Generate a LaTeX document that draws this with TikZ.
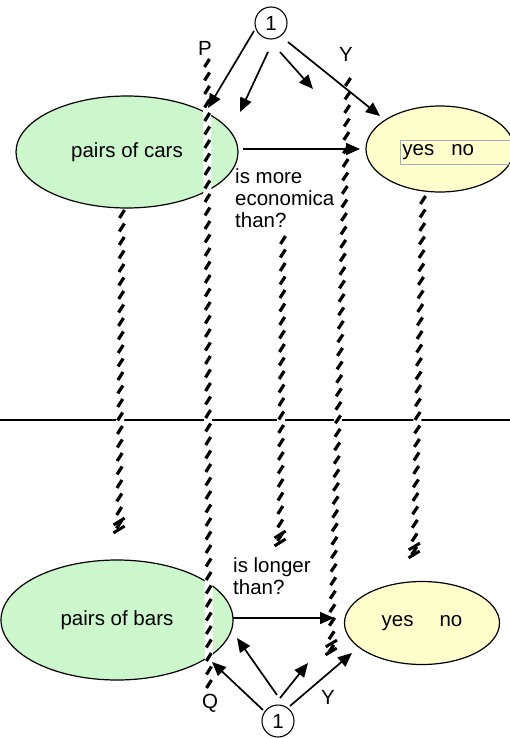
\documentclass[tikz,border=0pt]{standalone}
\usepackage{fontspec}
\setmainfont{Liberation Sans}
\usetikzlibrary{arrows.meta,decorations.markings,shapes.geometric}

\definecolor{pairgreen}{RGB}{204,246,204}
\definecolor{answeryellow}{RGB}{255,255,204}
\definecolor{boxedge}{RGB}{160,170,195}

\tikzset{
  every node/.style={font=\fontsize{20.5}{22}\selectfont},
  pairnode/.style={ellipse, draw, line width=1.2pt, fill=pairgreen, inner sep=0pt},
  answernode/.style={ellipse, draw, line width=1.2pt, fill=answeryellow, inner sep=0pt},
  numnode/.style={circle, draw, line width=1.1pt, fill=white, minimum size=32pt, inner sep=0pt},
  arr/.style={-{Triangle[length=14pt,width=12pt]}, line width=1.7pt},
  % a vertical track: white backing strip with slanted black ticks
  track/.style={
    preaction={draw=white, line width=8pt},
    postaction={decorate, decoration={markings,
      mark=between positions 0 and 1 step 13.5pt with
        {\draw[black, line width=3.2pt] (4pt,-2.5pt) -- (-4pt,2.5pt);}}}},
  % double slash closing a track
  trackend/.style={
    postaction={decorate, decoration={markings,
      mark=at position 1 with
        {\draw[black, line width=3pt] (0pt,-5.5pt) -- (-7pt,5.5pt)
                                      (-8pt,-5.5pt) -- (-15pt,5.5pt);}}}},
}

\begin{document}
\begin{tikzpicture}[x=1pt, y=-1pt]
\clip (0,0) rectangle (510,738);
\fill[white] (0,0) rectangle (510,738);

% separator between the two levels
\coordinate (sepL) at (0,420);
\coordinate (sepR) at (510,420);
\draw[line width=1.2pt] (sepL) -- (sepR);

% upper level
\node[pairnode, minimum width=222pt, minimum height=112pt] (cars) at (127,152) {pairs of cars};
\node[answernode, minimum width=148pt, minimum height=86pt] (yesTop) at (440,149) {};
\node[draw=boxedge, line width=0.8pt, anchor=west, minimum height=24pt,
      text width=114pt, align=left, inner xsep=2pt, inner ysep=0pt] (yesnoTop) at (400,152)
      {yes\hspace{17pt}no};
\node[anchor=north west, align=left, inner sep=0pt] (econ) at (235,168)
      {is more\\economica\\than?};

% lower level
\node[pairnode, minimum width=232pt, minimum height=120pt] (bars) at (117,620) {pairs of bars};
\node[answernode, minimum width=155pt, minimum height=83pt] (yesBot) at (422,623)
      {yes\hspace{26pt}no};
\node[anchor=north west, align=left, inner sep=0pt] (longer) at (233,557)
      {is longer\\than?};

% tracks
\coordinate (p1) at (207,63);  \coordinate (p2) at (209,686);
\coordinate (y1) at (348,82);  \coordinate (y2) at (331,655);
\coordinate (l1) at (122,214); \coordinate (l2) at (119,533);
\coordinate (m1) at (283,240); \coordinate (m2) at (280,546);
\coordinate (r1) at (423,200); \coordinate (r2) at (414,558);
\path[track] (p1) -- (p2);
\path[track, trackend] (y1) -- (y2);
\path[track, trackend] (l1) -- (l2);
\path[track, trackend] (m1) -- (m2);
\path[track, trackend] (r1) -- (r2);

% labels
\node (labP) at (205,48) {P};
\node (labY) at (346,54) {Y};
\node (labQ) at (210,703) {Q};
\node (labY2) at (328,697) {Y};

% relation arrows
\coordinate (carsOut) at (243,149); \coordinate (carsIn) at (360,149);
\draw[arr] (carsOut) -- (carsIn);
\coordinate (barsOut) at (233,618); \coordinate (barsIn) at (334,618);
\draw[arr] (barsOut) -- (barsIn);

% upper fan
\node[numnode] (numTop) at (271,23) {1};
\coordinate (ta1) at (254,31);  \coordinate (ha1) at (208,108);
\coordinate (ta2) at (268,52);  \coordinate (ha2) at (240,112);
\coordinate (ta3) at (280,52);  \coordinate (ha3) at (313,89);
\coordinate (ta4) at (288,42);  \coordinate (ha4) at (380,116);
\draw[arr] (ta1) -- (ha1);
\draw[arr] (ta2) -- (ha2);
\draw[arr] (ta3) -- (ha3);
\draw[arr] (ta4) -- (ha4);

% lower fan
\node[numnode] (numBot) at (278,721) {1};
\coordinate (ba1) at (263,710); \coordinate (hb1) at (212,662);
\coordinate (ba2) at (277,695); \coordinate (hb2) at (237,638);
\coordinate (ba3) at (280,698); \coordinate (hb3) at (308,663);
\coordinate (ba4) at (290,706); \coordinate (hb4) at (352,653);
\draw[arr] (ba1) -- (hb1);
\draw[arr] (ba2) -- (hb2);
\draw[arr] (ba3) -- (hb3);
\draw[arr] (ba4) -- (hb4);
\end{tikzpicture}
\end{document}
